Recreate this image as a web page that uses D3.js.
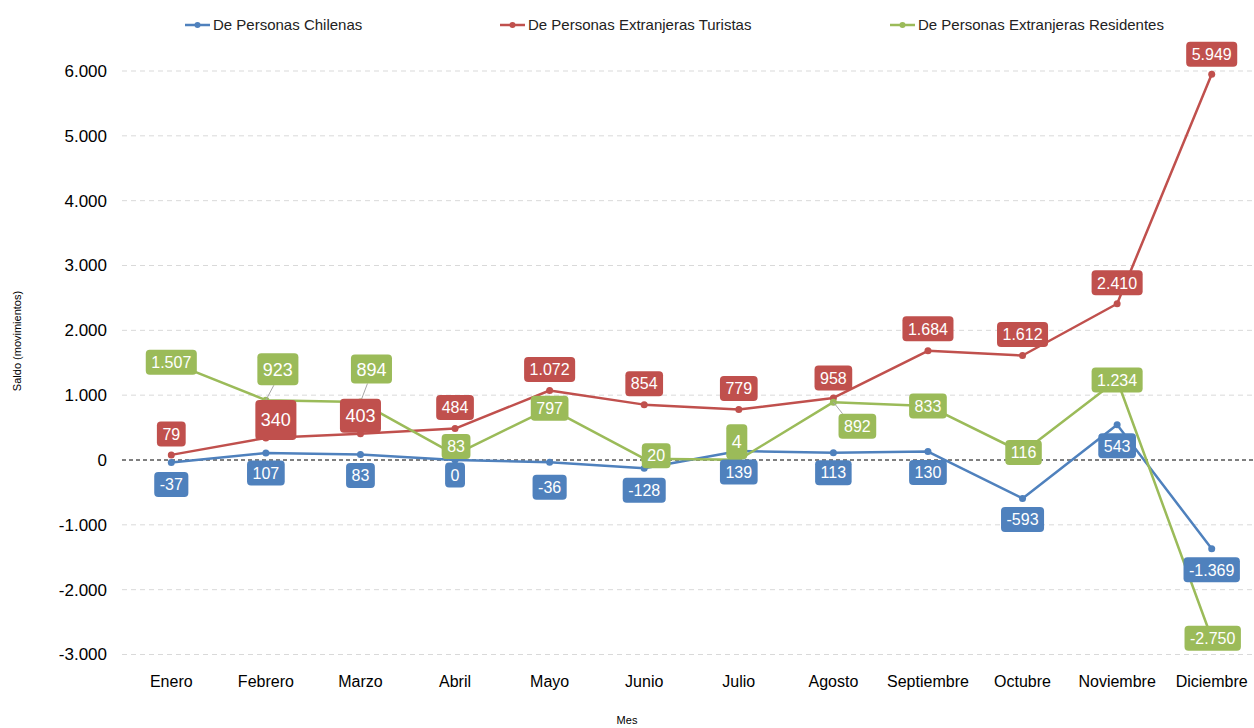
<!DOCTYPE html>
<html>
<head>
<meta charset="utf-8">
<script src="https://cdn.jsdelivr.net/npm/d3@7"></script>
<style>
  body { margin: 0; background: #fff; }
  text { font-family: "Liberation Sans", Arial, sans-serif; }
</style>
</head>
<body>
<div id="chart"></div>
<script>
// data
var months = ["Enero", "Febrero", "Marzo", "Abril", "Mayo", "Junio", "Julio", "Agosto", "Septiembre", "Octubre", "Noviembre", "Diciembre"];
var chilenas = [-37, 107, 83, 0, -36, -128, 139, 113, 130, -593, 543, -1369];
var turistas = [79, 340, 403, 484, 1072, 854, 779, 958, 1684, 1612, 2410, 5949];
var residentes = [1507, 923, 894, 83, 797, 20, 4, 892, 833, 116, 1234, -2750];
var yTicks = [-3000, -2000, -1000, 0, 1000, 2000, 3000, 4000, 5000, 6000];
var seriesNames = ["De Personas Chilenas", "De Personas Extranjeras Turistas", "De Personas Extranjeras Residentes"];

// label placement (dx, dy from point, box height, font size, leader line)
var blueLabelPos = [[0,22],[0,20],[0,21],[0,15],[0,25],[0,22],[0,21],[0,20],[0,21],[0,21],[0,21],[0,21]];
var redLabelPos = [[0,-21],[10,-18,40,18],[0,-18,34,18],[0,-21],[0,-21],[0,-21],[0,-21],[0,-20],[0,-22],[0,-21],[0,-21],[0,-20]];
var greenLabelPos = [[0,0],[12,-31,32,18,1],[11,-33,29,18,1],[1,-8],[0,0],[12,-3],[-2,-18,35,18],[24,24,0,0,1],[0,0],[1,0],[0,0],[1,0]];

var colors = ["#4F81BD", "#C0504D", "#9BBB59"];

var width = 1254, height = 728;
var locale = d3.formatLocale({decimal: ",", thousands: ".", grouping: [3], currency: ["$", ""], minus: "-"});
var fmt = locale.format(",d");

var svg = d3.select("#chart").append("svg")
    .attr("width", width)
    .attr("height", height);

var x = d3.scalePoint(months, [124, 1259]).padding(0.5);
var y = d3.scaleLinear([-3000, 6000], [654.5, 71]);

// grid
svg.append("g").selectAll("line")
  .data(yTicks)
  .join("line")
    .attr("x1", 122).attr("x2", 1254)
    .attr("y1", d => y(d)).attr("y2", d => y(d))
    .attr("stroke", d => d === 0 ? "#000" : "#d9d9d9")
    .attr("stroke-width", 1)
    .attr("stroke-dasharray", d => d === 0 ? "4,3" : "5,4");

// y tick labels
svg.append("g").selectAll("text")
  .data(yTicks)
  .join("text")
    .attr("x", 107)
    .attr("y", d => y(d))
    .attr("dy", "0.35em")
    .attr("text-anchor", "end")
    .attr("font-size", 17)
    .attr("fill", "#000")
    .text(d => fmt(d));

// x tick labels
svg.append("g").selectAll("text")
  .data(months)
  .join("text")
    .attr("x", d => x(d))
    .attr("y", 687)
    .attr("text-anchor", "middle")
    .attr("font-size", 16)
    .attr("fill", "#000")
    .text(d => d);

// axis titles
svg.append("text")
    .attr("transform", "translate(21,341) rotate(-90)")
    .attr("text-anchor", "middle")
    .attr("font-size", 11)
    .attr("fill", "#000")
    .text("Saldo (movimientos)");

svg.append("text")
    .attr("x", 627).attr("y", 724)
    .attr("text-anchor", "middle")
    .attr("font-size", 11)
    .attr("fill", "#000")
    .text("Mes");

// legend
var legendX = [185, 500, 890];
var legend = svg.append("g").selectAll("g")
  .data(seriesNames)
  .join("g")
    .attr("transform", (d, i) => "translate(" + legendX[i] + ",25)");
legend.append("line")
    .attr("x1", 0).attr("x2", 25)
    .attr("stroke", (d, i) => colors[i])
    .attr("stroke-width", 2.5);
legend.append("circle")
    .attr("cx", 12.5).attr("r", 3)
    .attr("fill", (d, i) => colors[i]);
legend.append("text")
    .attr("x", 28).attr("dy", "0.35em")
    .attr("font-size", 15)
    .attr("fill", "#222")
    .text(d => d);

var allSeries = [chilenas, turistas, residentes];
var allPos = [blueLabelPos, redLabelPos, greenLabelPos];

var line = d3.line()
    .x((d, i) => x(months[i]))
    .y(d => y(d));

// lines and markers
allSeries.forEach(function(vals, s) {
    svg.append("path")
        .datum(vals)
        .attr("d", line)
        .attr("fill", "none")
        .attr("stroke", colors[s])
        .attr("stroke-width", 2.5)
        .attr("stroke-linejoin", "round");
    svg.append("g").selectAll("circle")
      .data(vals)
      .join("circle")
        .attr("cx", (d, i) => x(months[i]))
        .attr("cy", d => y(d))
        .attr("r", 3.5)
        .attr("fill", colors[s]);
});

// data labels: blue, green, then red on top
[0, 2, 1].forEach(function(s) {
    var vals = allSeries[s];
    var pos = allPos[s];
    var g = svg.append("g");
    vals.forEach(function(v, i) {
        var p = pos[i];
        var px = x(months[i]), py = y(v);
        var cx = px + p[0], cy = py + p[1];
        var fs = p[3] || 16;
        var lab = g.append("g");
        var t = lab.append("text")
            .attr("x", cx).attr("y", cy)
            .attr("dy", "0.36em")
            .attr("text-anchor", "middle")
            .attr("font-size", fs)
            .attr("fill", "#fff")
            .text(fmt(v));
        var w = t.node().getComputedTextLength() + 11;
        var h = p[2] || 25;
        if (p[4]) {
            var ey = p[1] < 0 ? cy + h / 2 : cy - h / 2;
            lab.insert("line", "text")
                .attr("x1", px).attr("y1", py)
                .attr("x2", p[1] < 0 ? cx - 4 : cx - w / 2 + 4).attr("y2", ey)
                .attr("stroke", "#a6a6a6").attr("stroke-width", 1);
        }
        lab.insert("rect", "text")
            .attr("x", cx - w / 2).attr("y", cy - h / 2)
            .attr("width", w).attr("height", h)
            .attr("rx", 4)
            .attr("fill", colors[s]);
    });
});
</script>
</body>
</html>
